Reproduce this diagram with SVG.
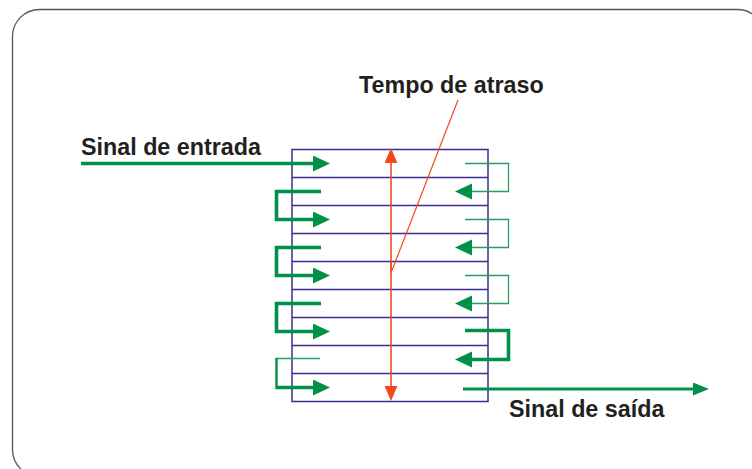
<svg xmlns="http://www.w3.org/2000/svg" width="752" height="469" viewBox="0 0 752 469">
<style>
.frame{fill:#fff;stroke:#555;stroke-width:1.3}
.cell{fill:none;stroke:#3d2b8e;stroke-width:1.5}
.lbl{font-family:"Liberation Sans",Arial,sans-serif;font-weight:bold;font-size:23.3px;fill:#231f20}
.g{fill:none;stroke:#00904a;stroke-linejoin:miter}
.thick{stroke-width:3.6}
.mid{stroke-width:2.8}
.thin{stroke-width:1.3;stroke:#2a9d63}
.red{fill:none;stroke:#ef4b1f;stroke-width:1.6}
</style>
<defs>
<marker id="hg" markerUnits="userSpaceOnUse" markerWidth="18" markerHeight="17" refX="0" refY="8" orient="auto"><path d="M0,0 L17,8 L0,16 z" fill="#00904a"/></marker>
<marker id="hgs" markerUnits="userSpaceOnUse" markerWidth="17" markerHeight="14" refX="0" refY="6.5" orient="auto"><path d="M0,0 L16,6.5 L0,13 z" fill="#00904a"/></marker>
<marker id="hr" markerUnits="userSpaceOnUse" markerWidth="16" markerHeight="14" refX="0" refY="6.5" orient="auto"><path d="M0,0 L15,6.5 L0,13 z" fill="#ef4b1f"/></marker>
</defs>
<rect class="frame" x="12.5" y="9.5" width="752" height="467" rx="27"/>
<g id="delay-line">
<rect class="cell" x="292" y="149.5" width="196" height="252"/>
<path class="cell" d="M292,177.5H488M292,205.5H488M292,233.5H488M292,261.5H488M292,289.5H488M292,317.5H488M292,345.5H488M292,373.5H488"/>
</g>
<g id="label-tempo"><text class="lbl" x="359" y="93">Tempo de atraso</text></g>
<g id="label-entrada"><text class="lbl" x="81" y="155">Sinal de entrada</text></g>
<g id="label-saida"><text class="lbl" x="509" y="417">Sinal de saída</text></g>
<g id="connectors">
<path class="g thick" d="M81,163.5H313" marker-end="url(#hg)"/>
<path class="g thick" d="M321,191.5H276.5V219.5H313" marker-end="url(#hg)"/>
<path class="g thick" d="M321,247.5H276.5V275.5H313" marker-end="url(#hg)"/>
<path class="g thick" d="M321,303.5H276.5V331.5H313" marker-end="url(#hg)"/>
<path class="g thin" d="M320,358.5H276"/>
<path class="g" style="stroke-width:2.4" d="M276.5,357.9V386"/>
<path class="g thick" d="M275.3,387.5H313" marker-end="url(#hg)"/>
<path class="g thin" d="M465,163.5H508.5V191.5H472" marker-end="url(#hg)"/>
<path class="g thin" d="M465,219.5H508.5V247.5H472" marker-end="url(#hg)"/>
<path class="g thin" d="M465,275.5H508.5V303.5H472" marker-end="url(#hg)"/>
<path class="g thick" d="M465,330.5H508.5V359.5H472" marker-end="url(#hg)"/>
<path class="g mid" d="M463,389H693" marker-end="url(#hgs)"/>
<path class="red" d="M391,270V163" marker-end="url(#hr)"/>
<path class="red" d="M391,260V386" marker-end="url(#hr)"/>
<path class="red" style="stroke-width:1.2" d="M458,100L391,273"/>
</g>
</svg>
